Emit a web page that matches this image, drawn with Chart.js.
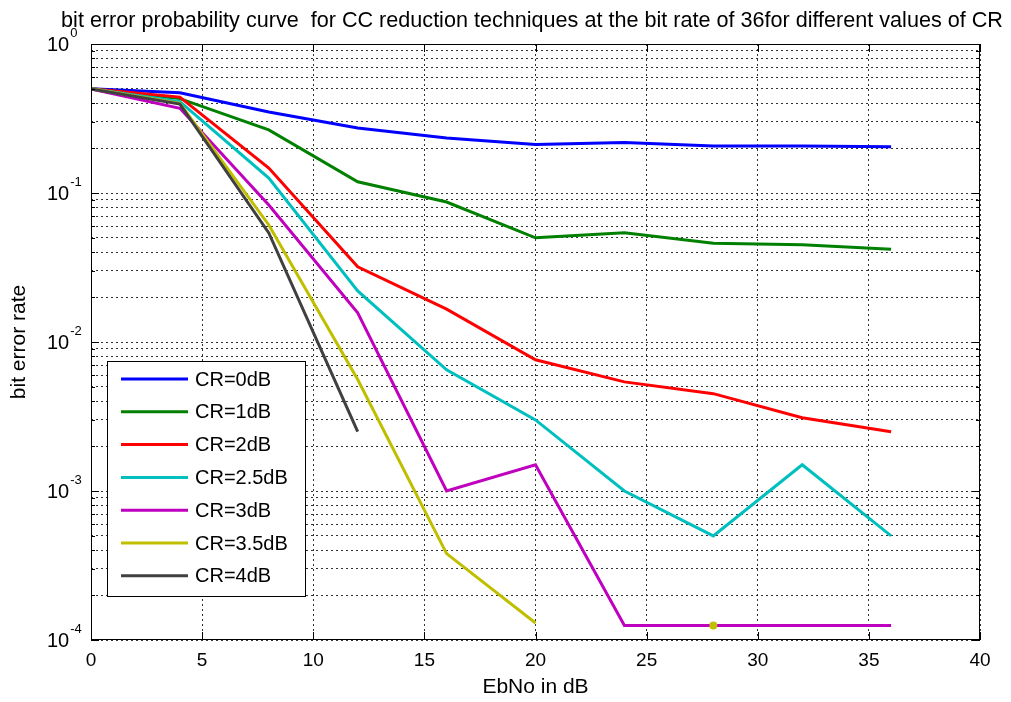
<!DOCTYPE html>
<html>
<head>
<meta charset="utf-8">
<script src="https://cdn.jsdelivr.net/npm/chart.js@4/dist/chart.umd.min.js"></script>
<style>
  body { margin: 0; background: #fff; }
  canvas { display: block; }
</style>
</head>
<body>
<canvas id="ber" width="1011" height="702"></canvas>
<script>
// EbNo sweep (dB) and measured bit error rate per clipping ratio
const ebno = [0, 4, 8, 12, 16, 20, 24, 28, 32, 36];
const cr0  = [0.5, 0.47, 0.35, 0.273, 0.234, 0.212, 0.218, 0.207, 0.207, 0.204];
const cr1  = [0.5, 0.43, 0.265, 0.119, 0.087, 0.05, 0.054, 0.046, 0.045, 0.042];
const cr2  = [0.5, 0.44, 0.147, 0.032, 0.0166, 0.0076, 0.0054, 0.0045, 0.0031, 0.0025];
const cr25 = [0.5, 0.41, 0.126, 0.022, 0.0065, 0.003, 0.001, 0.0005, 0.0015, 0.0005];
const cr3  = [0.5, 0.37, 0.083, 0.0157, 0.001, 0.0015, 0.000125, 0.000125, 0.000125, 0.000125];
const cr35 = [0.5, 0.4, 0.061, 0.0056, 0.00038, 0.00013, null, 0.000125, null, null];
const cr4  = [0.5, 0.395, 0.054, 0.0025, null, null, null, null, null, null];

const seriesNames = ['CR=0dB', 'CR=1dB', 'CR=2dB', 'CR=2.5dB', 'CR=3dB', 'CR=3.5dB', 'CR=4dB'];
const seriesData = [cr0, cr1, cr2, cr25, cr3, cr35, cr4];
const seriesColors = ['#0000ff', '#008000', '#ff0000', '#00bfbf', '#bf00bf', '#bfbf00', '#404040'];

const xTicks = [0, 5, 10, 15, 20, 25, 30, 35, 40];
const yDecades = [-4, -3, -2, -1, 0];

const titleText = 'bit error probability curve  for CC reduction techniques at the bit rate of 36for different values of CR';
const FONT = '"Liberation Sans", Arial, Helvetica, sans-serif';

// log grid: 1..9 x 10^n for every decade
const yGridValues = [];
yDecades.forEach(p => {
    const steps = p === 0 ? [1] : [1, 2, 3, 4, 5, 6, 7, 8, 9];
    steps.forEach(m => yGridValues.push(m * Math.pow(10, p)));
});

const datasets = seriesData.map((vals, i) => ({
    label: seriesNames[i],
    data: vals.map((v, j) => ({ x: ebno[j], y: v })),
    borderColor: seriesColors[i],
    backgroundColor: seriesColors[i],
    borderWidth: 3,
    tension: 0,
    spanGaps: false,
    // lone sample between gaps still gets a dot
    pointRadius: vals.map((v, j) => (v !== null && vals[j - 1] == null && vals[j + 1] == null && j > 0) ? 4 : 0),
    pointBorderWidth: 0,
    order: 10 - i,
}));

// frame, inward ticks, exponent labels, title and legend
const matlabAxes = {
    id: 'matlabAxes',
    afterDraw(chart) {
        const { ctx, chartArea: a, scales: { x, y } } = chart;
        ctx.save();
        ctx.strokeStyle = '#000';
        ctx.lineWidth = 1;
        ctx.setLineDash([]);
        ctx.strokeRect(a.left + 0.5, a.top + 0.5, a.right - a.left - 1, a.bottom - a.top - 1);

        ctx.beginPath();
        xTicks.forEach(v => {
            const px = Math.round(x.getPixelForValue(v)) + 0.5;
            ctx.moveTo(px, a.bottom); ctx.lineTo(px, a.bottom - 8);
            ctx.moveTo(px, a.top); ctx.lineTo(px, a.top + 8);
        });
        yGridValues.forEach(v => {
            const len = Math.abs(Math.log10(v) - Math.round(Math.log10(v))) < 1e-9 ? 8 : 4;
            const py = Math.round(y.getPixelForValue(v)) + 0.5;
            ctx.moveTo(a.left, py); ctx.lineTo(a.left + len, py);
            ctx.moveTo(a.right, py); ctx.lineTo(a.right - len, py);
        });
        ctx.stroke();

        // 10^n labels
        ctx.fillStyle = '#000';
        ctx.textAlign = 'left';
        yDecades.forEach(p => {
            const py = y.getPixelForValue(Math.pow(10, p));
            ctx.font = '20px ' + FONT;
            ctx.textBaseline = 'middle';
            ctx.fillText('10', 47, py + 1);
            const bw = ctx.measureText('10').width;
            ctx.font = '13px ' + FONT;
            ctx.textBaseline = 'alphabetic';
            ctx.fillText(String(p), 47 + bw + 1, py - 7);
        });

        // title, squeezed to the plot width
        ctx.font = '21.6px ' + FONT;
        ctx.textAlign = 'center';
        ctx.textBaseline = 'alphabetic';
        ctx.fillText(titleText, 532, 27, 945);

        // legend box
        const box = { l: 107, t: 361, r: 306, b: 597 };
        ctx.fillStyle = '#fff';
        ctx.fillRect(box.l, box.t, box.r - box.l, box.b - box.t);
        ctx.strokeStyle = '#000';
        ctx.strokeRect(box.l + 0.5, box.t + 0.5, box.r - box.l - 1, box.b - box.t - 1);
        ctx.font = '20px ' + FONT;
        ctx.textAlign = 'left';
        ctx.textBaseline = 'middle';
        seriesNames.forEach((name, i) => {
            const ry = 379 + i * 32.8;
            ctx.strokeStyle = seriesColors[i];
            ctx.lineWidth = 3;
            ctx.beginPath();
            ctx.moveTo(121, ry); ctx.lineTo(188, ry);
            ctx.stroke();
            ctx.fillStyle = '#000';
            ctx.fillText(name, 195, ry + 1, 99);
        });
        ctx.restore();
    }
};

const ctx = document.getElementById('ber').getContext('2d');
const chart = new Chart(ctx, {
    type: 'line',
    data: { datasets: datasets },
    plugins: [matlabAxes],
    options: {
        responsive: false,
        animation: false,
        layout: { padding: { top: 44, right: 31, bottom: 0, left: 0 } },
        plugins: {
            legend: { display: false },
            tooltip: { enabled: false },
        },
        scales: {
            x: {
                type: 'linear',
                min: 0,
                max: 40,
                afterBuildTicks: scale => { scale.ticks = xTicks.map(v => ({ value: v })); },
                afterFit: scale => { scale.height = 62; },
                ticks: {
                    color: '#000',
                    font: { size: 19, family: FONT },
                    padding: 9,
                    maxRotation: 0,
                },
                grid: {
                    color: 'rgba(0,0,0,0.8)',
                    lineWidth: 1,
                    drawTicks: false,
                },
                border: { display: false, dash: [2, 3] },
                title: {
                    display: true,
                    text: 'EbNo in dB',
                    color: '#000',
                    font: { size: 21, family: FONT },
                    padding: { top: 0, bottom: 2 },
                },
            },
            y: {
                type: 'logarithmic',
                min: 1e-4,
                max: 1,
                afterBuildTicks: scale => { scale.ticks = yGridValues.map(v => ({ value: v })); },
                afterFit: scale => { scale.width = 91; },
                ticks: { display: false },
                grid: {
                    color: 'rgba(0,0,0,0.8)',
                    lineWidth: 1,
                    drawTicks: false,
                },
                border: { display: false, dash: [2, 3] },
                title: {
                    display: true,
                    text: 'bit error rate',
                    color: '#000',
                    font: { size: 21, family: FONT },
                    padding: { top: 7, bottom: 0 },
                },
            },
        },
    },
});
</script>
</body>
</html>
